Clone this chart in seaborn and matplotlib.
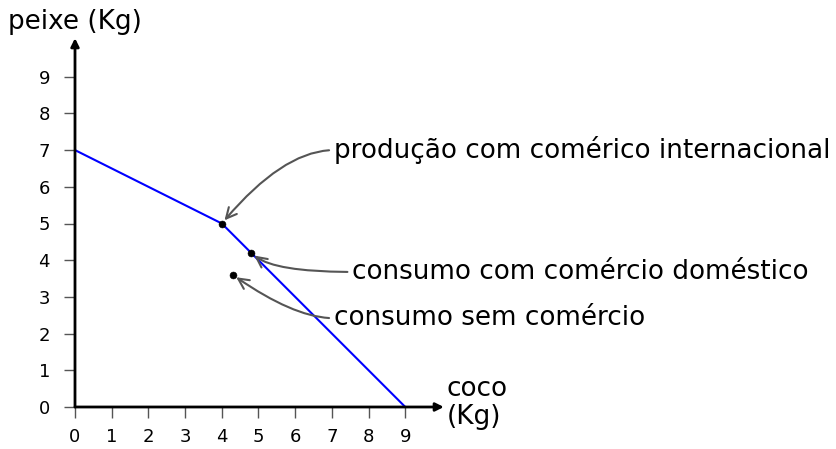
import matplotlib
matplotlib.use("Agg")
import matplotlib.pyplot as plt
import seaborn as sns
import pandas as pd

# fronteira de possibilidades
fronteira_coco = [0, 4, 9]
fronteira_peixe = [7, 5, 0]

# pontos marcados
pontos_coco = [4, 4.8, 4.3]
pontos_peixe = [5, 4.2, 3.6]
rotulos = ["produção com comérico internacional",
           "consumo com comércio doméstico",
           "consumo sem comércio"]
texto_xy = [(7.05, 7.0), (7.55, 3.68), (7.05, 2.42)]
conexoes = ["angle3,angleA=0,angleB=50",
            "angle3,angleA=0,angleB=-45",
            "angle3,angleA=0,angleB=-35"]

ticks = list(range(10))

sns.set_style("white")
plt.rcParams["font.family"] = ["DejaVu Sans"]
plt.rcParams["text.color"] = "black"

fig = plt.figure(figsize=(8.37, 4.49), dpi=100)
ax = fig.add_axes([75 / 837, 42 / 449, 367 / 837, 367 / 449])

df_linha = pd.DataFrame({"coco": fronteira_coco, "peixe": fronteira_peixe})
sns.lineplot(data=df_linha, x="coco", y="peixe", color="blue", linewidth=1.5,
             sort=False, ax=ax)

df_pts = pd.DataFrame({"coco": pontos_coco, "peixe": pontos_peixe})
sns.scatterplot(data=df_pts, x="coco", y="peixe", color="black", s=25,
                edgecolor="black", zorder=5, ax=ax)

for (px, py), txt, (tx, ty), con in zip(zip(pontos_coco, pontos_peixe), rotulos,
                                          texto_xy, conexoes):
    ax.annotate(txt, xy=(px, py), xytext=(tx, ty), fontsize=18.9, color="black",
                va="center", ha="left", annotation_clip=False,
                arrowprops=dict(arrowstyle="->", color="#555555", lw=1.5,
                                shrinkA=1, shrinkB=3, relpos=(0, 0.5),
                                connectionstyle=con))

ax.set_xlim(0, 10)
ax.set_ylim(0, 10)
ax.set_xticks(ticks)
ax.set_yticks(ticks)
ax.tick_params(axis="both", direction="out", length=8, width=1, color="#555555",
               labelsize=13, labelcolor="black", left=True, bottom=True)
ax.tick_params(axis="x", pad=7)
ax.tick_params(axis="y", pad=10)
for s in ax.spines.values():
    s.set_visible(False)

# eixos com setas
ax.annotate("", xy=(1.005, 0), xytext=(0, 0), xycoords="axes fraction",
            arrowprops=dict(arrowstyle="-|>", color="black", lw=2, shrinkA=0, shrinkB=0,
                            mutation_scale=12))
ax.annotate("", xy=(0, 1.005), xytext=(0, 0), xycoords="axes fraction",
            arrowprops=dict(arrowstyle="-|>", color="black", lw=2, shrinkA=0, shrinkB=0,
                            mutation_scale=12))

ax.set_xlabel("")
ax.set_ylabel("")
fig.text(8 / 837, 1 - 22 / 449, "peixe (Kg)", fontsize=18.9, va="center", ha="left",
         color="black")
fig.text(447 / 837, 1 - 403 / 449, "coco\n(Kg)", fontsize=18.9, va="center", ha="left",
         linespacing=1.05, color="black")

fig.savefig("out.png", dpi=100)
